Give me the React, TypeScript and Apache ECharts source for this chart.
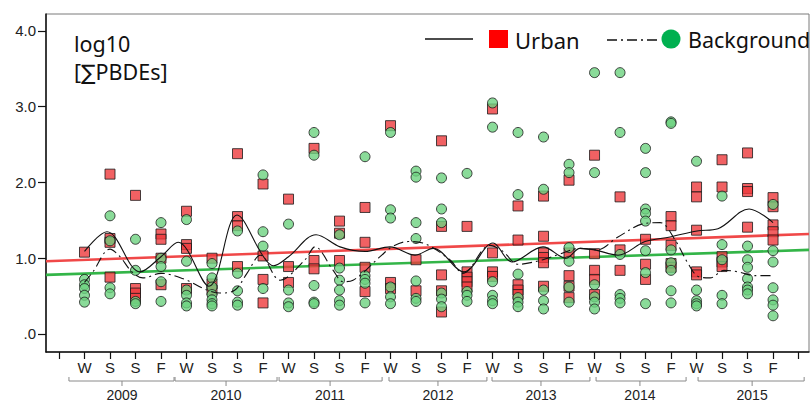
import React, { useEffect, useRef } from "react";
import * as echarts from "echarts";

// ---------- data ----------
const seasonLabels = [
  "W", "S", "S", "F", "W", "S", "S", "F", "W", "S", "S", "F", "W", "S",
  "S", "F", "W", "S", "S", "F", "W", "S", "S", "F", "W", "S", "S", "F",
];
const yTickValues = [0, 1, 2, 3, 4];
const yTickLabels = [".0", "1.0", "2.0", "3.0", "4.0"];

const yearLabels = ["2009", "2010", "2011", "2012", "2013", "2014", "2015"];
const yearStarts = [0.39, 4.55, 8.63, 12.94, 16.98, 21.06, 25.06];
const yearEnds = [4.51, 8.55, 12.67, 16.78, 20.82, 24.59, 29.22];
const yearCenters = [2.47, 6.55, 10.63, 14.86, 18.9, 22.78, 27.18];

const urbanValues: number[][] = [
  [1.08],
  [2.11, 1.26, 1.21, 0.75],
  [1.83, 0.6, 0.54, 0.47],
  [1.32, 1.25, 1.0, 0.65],
  [1.62, 1.18, 1.13, 0.6],
  [1.0, 0.66, 0.58],
  [2.38, 1.55, 1.43, 0.89],
  [1.98, 1.03, 0.72, 0.41],
  [1.78, 0.89, 0.68],
  [2.45, 0.97, 0.86],
  [1.49, 1.33, 0.97],
  [1.67, 1.21, 0.88, 0.56],
  [2.75, 0.68, 0.6],
  [0.98, 0.57],
  [2.55, 1.42, 0.78, 0.57, 0.29],
  [1.42, 0.82, 0.75, 0.69, 0.62],
  [2.97, 1.07, 0.82, 0.76],
  [1.69, 1.24, 0.65, 0.58, 0.52],
  [1.82, 1.29, 1.07, 1.01, 0.94, 0.63],
  [2.03, 1.07, 0.77, 0.63, 0.48],
  [2.36, 1.06, 0.84, 0.72, 0.52],
  [1.81, 1.11, 0.84],
  [1.25, 0.92, 0.72],
  [1.55, 1.43, 1.17, 0.93, 0.88],
  [1.94, 1.81, 1.37, 0.82, 0.78],
  [2.3, 1.94, 1.02, 0.95, 0.89],
  [2.39, 1.92, 1.88, 1.41],
  [1.8, 1.68, 1.44, 1.35, 1.24],
];

const backgroundValues: number[][] = [
  [0.72, 0.65, 0.6, 0.51, 0.42],
  [1.56, 1.23, 0.61, 0.53],
  [1.25, 0.84, 0.43, 0.4],
  [1.47, 1.0, 0.89, 0.69, 0.43],
  [1.51, 0.96, 0.58, 0.51, 0.41, 0.37],
  [0.93, 0.74, 0.62, 0.52, 0.45, 0.4, 0.37],
  [1.36, 0.8, 0.57, 0.42, 0.38],
  [2.1, 1.35, 1.16, 0.6],
  [1.45, 0.58, 0.41, 0.36],
  [2.66, 2.36, 0.64, 0.42, 0.4],
  [1.31, 0.87, 0.71, 0.58, 0.44, 0.38],
  [2.34, 0.77, 0.72, 0.67, 0.41],
  [2.66, 1.64, 1.53, 0.62, 0.49, 0.4],
  [2.15, 2.07, 1.47, 1.26, 0.7, 0.47, 0.43],
  [2.06, 1.65, 1.47, 0.54, 0.46, 0.36],
  [2.12, 0.56, 0.51, 0.43],
  [3.05, 2.73, 0.69, 0.51, 0.44, 0.4],
  [2.66, 1.84, 0.79, 0.48, 0.42, 0.36],
  [2.6, 1.91, 0.58, 0.44, 0.33],
  [2.24, 2.13, 1.14, 0.96, 0.62, 0.42],
  [3.45, 2.13, 0.65, 0.49, 0.42, 0.33],
  [3.45, 2.66, 1.05, 0.52, 0.47, 0.41],
  [2.45, 2.13, 1.65, 1.59, 1.49, 1.1, 0.81, 0.4],
  [2.8, 2.78, 1.11, 0.94, 0.84, 0.57, 0.41],
  [2.28, 0.58, 0.44, 0.4, 0.37],
  [1.82, 1.18, 0.98, 0.51, 0.4],
  [1.16, 0.98, 0.88, 0.73, 0.62, 0.58, 0.53],
  [1.71, 1.1, 0.95, 0.61, 0.45, 0.38, 0.24],
];

// smoothed interpolation curves: [position, value]
const urbanCurve: number[][] = [
  [1, 1.09], [1.88, 1.35], [3.18, 0.82], [4, 1.02], [4.67, 1.21], [5.88, 0.63],
  [6.98, 1.57], [8, 1.03], [8.4, 0.9], [9, 1.02], [10.08, 1.31], [11.02, 1.15],
  [12, 1.09], [12.98, 1.15], [13.96, 1.04], [14.67, 1.13], [15.88, 0.82],
  [17.02, 1.2], [17.76, 0.95], [18.98, 1.15], [19.88, 1.0], [20.43, 1.13],
  [21.02, 1.11], [21.92, 1.04], [22.98, 1.22], [23.96, 1.28], [25.02, 1.36],
  [25.84, 1.39], [27.06, 1.65], [28, 1.47],
];
const backgroundCurve: number[][] = [
  [1, 0.68], [1.33, 0.82], [2.0, 1.12], [2.39, 1.02], [2.86, 0.82], [3.29, 0.74],
  [4.0, 0.8], [4.94, 0.72], [5.73, 0.59], [6.31, 0.54], [6.9, 0.58], [7.37, 0.8],
  [7.9, 1.04], [8.67, 0.71], [9.65, 0.98], [10.04, 1.15], [10.75, 0.84],
  [11.14, 0.69], [11.53, 0.71], [12.59, 1.02], [13.06, 1.15], [13.69, 1.22],
  [14.27, 1.2], [15.33, 0.98], [15.84, 0.8], [16.9, 1.17], [17.41, 1.09],
  [18.0, 0.92], [18.98, 0.98], [19.6, 1.05], [20.43, 1.13], [21.1, 1.11],
  [21.92, 1.28], [22.98, 1.46], [23.57, 1.47], [24.16, 1.24], [24.67, 0.93],
  [25.06, 0.76], [25.53, 0.74], [26.08, 0.84], [26.63, 0.82], [27.29, 0.77],
  [28, 0.77],
];

// linear trend lines (endpoints at axis ends)
const urbanTrend: number[][] = [[-0.51, 0.96], [29.41, 1.32]];
const backgroundTrend: number[][] = [[-0.51, 0.78], [29.41, 1.11]];

const titleLines = ["log10", "[∑PBDEs]"];

const X_MIN = -0.51;
const X_MAX = 29.41;
const Y_MIN = -0.238;
const Y_MAX = 4.224;

const AXIS_FONT = '"Liberation Sans", Arial, sans-serif';
const TEXT_FONT = '"Noto Sans", "DejaVu Sans", sans-serif';

export default function App() {
  const ref = useRef<HTMLDivElement>(null);

  useEffect(() => {
    if (!ref.current) return;
    const chart = echarts.init(ref.current, undefined, { renderer: "svg" });

    const urbanPoints = urbanValues.flatMap((vals, i) => vals.map((v) => [i + 1, v]));
    const bgPoints = backgroundValues.flatMap((vals, i) => vals.map((v) => [i + 1, v]));
    const tickPositions = Array.from({ length: seasonLabels.length + 2 }, (_, i) => i);
    const labelPositions = seasonLabels.map((_, i) => i + 1);
    const yearData = yearLabels.map((_, i) => [yearStarts[i], yearEnds[i], yearCenters[i], Y_MIN]);

    const option: any = {
      animation: false,
      grid: {
        left: 46,
        right: 2,
        top: 14,
        bottom: 51,
        show: true,
        borderColor: "#7a7a7a",
        borderWidth: 1,
        backgroundColor: "transparent",
      },
      xAxis: {
        type: "value",
        min: X_MIN,
        max: X_MAX,
        axisLine: { show: true, onZero: false, lineStyle: { color: "#111", width: 1.5 } },
        axisTick: {
          show: true,
          length: 7,
          customValues: tickPositions,
          lineStyle: { color: "#111", width: 1.2 },
        },
        axisLabel: {
          customValues: labelPositions,
          formatter: (v: number) => seasonLabels[Math.round(v) - 1] ?? "",
          margin: 8,
          fontSize: 15,
          fontFamily: AXIS_FONT,
          color: "#222",
        },
        splitLine: { show: false },
      },
      yAxis: {
        type: "value",
        min: Y_MIN,
        max: Y_MAX,
        axisLine: { show: true, onZero: false, lineStyle: { color: "#111", width: 1.5 } },
        axisTick: {
          show: true,
          length: 8,
          customValues: yTickValues,
          lineStyle: { color: "#111", width: 1.2 },
        },
        axisLabel: {
          customValues: yTickValues,
          formatter: (v: number) => yTickLabels[yTickValues.indexOf(Math.round(v))] ?? "",
          margin: 10,
          fontSize: 15,
          fontFamily: AXIS_FONT,
          color: "#222",
        },
        splitLine: { show: false },
      },
      series: [
        {
          name: "Urban trend",
          type: "line",
          data: urbanTrend,
          symbol: "none",
          silent: true,
          z: 1,
          lineStyle: { color: "#f04848", width: 2.6 },
        },
        {
          name: "Background trend",
          type: "line",
          data: backgroundTrend,
          symbol: "none",
          silent: true,
          z: 1,
          lineStyle: { color: "#33b548", width: 2.6 },
        },
        {
          name: "Urban",
          type: "scatter",
          data: urbanPoints,
          symbol: "rect",
          symbolSize: 10,
          z: 2,
          itemStyle: { color: "#ee3a3c", borderColor: "#1a1a1a", borderWidth: 1 },
        },
        {
          name: "Background",
          type: "scatter",
          data: bgPoints,
          symbol: "circle",
          symbolSize: 10,
          z: 3,
          itemStyle: { color: "#6dd27f", borderColor: "#1a1a1a", borderWidth: 1 },
        },
        {
          name: "Urban curve",
          type: "line",
          data: urbanCurve,
          smooth: 0.35,
          symbol: "none",
          silent: true,
          z: 4,
          lineStyle: { color: "#111", width: 1.1 },
        },
        {
          name: "Background curve",
          type: "line",
          data: backgroundCurve,
          smooth: 0.35,
          symbol: "none",
          silent: true,
          z: 4,
          lineStyle: { color: "#111", width: 1.1, type: [10, 4, 2, 4] },
        },
        {
          name: "Years",
          type: "custom",
          data: yearData,
          clip: false,
          silent: true,
          encode: { x: [0, 1, 2], y: 3 },
          renderItem: (params: any, api: any) => {
            const s = api.coord([api.value(0), Y_MIN]);
            const e = api.coord([api.value(1), Y_MIN]);
            const c = api.coord([api.value(2), Y_MIN]);
            const yLine = s[1] + 29;
            return {
              type: "group",
              children: [
                {
                  type: "polyline",
                  shape: {
                    points: [
                      [s[0], yLine - 4],
                      [s[0], yLine],
                      [e[0], yLine],
                      [e[0], yLine - 4],
                    ],
                  },
                  style: { stroke: "#8a8a8a", lineWidth: 1, fill: null },
                },
                {
                  type: "line",
                  shape: { x1: c[0], y1: yLine, x2: c[0], y2: yLine + 5 },
                  style: { stroke: "#8a8a8a", lineWidth: 1 },
                },
                {
                  type: "text",
                  style: {
                    text: yearLabels[params.dataIndex],
                    x: c[0],
                    y: yLine + 14,
                    align: "center",
                    verticalAlign: "middle",
                    fontSize: 14,
                    fontFamily: AXIS_FONT,
                    fill: "#222",
                  },
                },
              ],
            };
          },
        },
      ],
      graphic: [
        {
          type: "text",
          x: 74,
          y: 43,
          style: {
            text: titleLines[0],
            fontSize: 21.5,
            fontFamily: TEXT_FONT,
            fill: "#111",
            verticalAlign: "middle",
          },
        },
        {
          type: "text",
          x: 74,
          y: 71,
          style: {
            text: titleLines[1],
            fontSize: 21.5,
            fontFamily: TEXT_FONT,
            fill: "#111",
            verticalAlign: "middle",
          },
        },
        {
          type: "line",
          shape: { x1: 425, y1: 39, x2: 473, y2: 39 },
          style: { stroke: "#111", lineWidth: 1.3 },
        },
        {
          type: "rect",
          shape: { x: 489, y: 30, width: 19, height: 18 },
          style: { fill: "#ff0000" },
        },
        {
          type: "text",
          x: 515,
          y: 39.5,
          style: {
            text: "Urban",
            fontSize: 22,
            fontFamily: TEXT_FONT,
            fill: "#111",
            verticalAlign: "middle",
          },
        },
        {
          type: "line",
          shape: { x1: 607, y1: 40, x2: 657, y2: 40 },
          style: { stroke: "#111", lineWidth: 1.3, lineDash: [10, 4, 2, 4] },
        },
        {
          type: "circle",
          shape: { cx: 671, cy: 39, r: 9.5 },
          style: { fill: "#00b050" },
        },
        {
          type: "text",
          x: 688,
          y: 39.5,
          style: {
            text: "Background",
            fontSize: 21.5,
            fontFamily: TEXT_FONT,
            fill: "#111",
            verticalAlign: "middle",
          },
        },
      ],
    };

    chart.setOption(option);
    return () => chart.dispose();
  }, []);

  return (
    <div
      ref={ref}
      style={{ position: "fixed", left: 0, top: 0, width: 811, height: 403, background: "#fff" }}
    />
  );
}
